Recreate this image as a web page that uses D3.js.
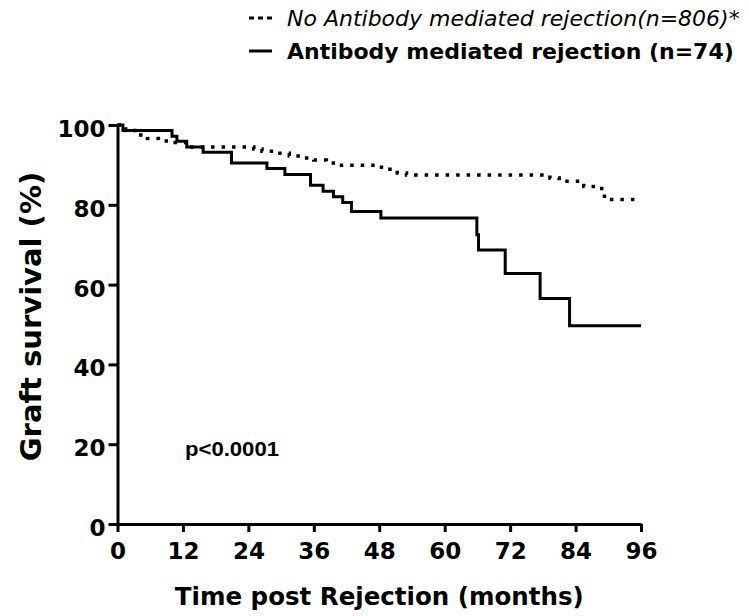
<!DOCTYPE html>
<html>
<head>
<meta charset="utf-8" />
<title>Graft survival after rejection</title>
<script src="https://d3js.org/d3.v7.min.js"></script>
<style>
    body { margin: 0; background: #fff; }
    svg { display: block; }
    .tick text { font-family: "DejaVu Sans", Verdana, sans-serif; font-weight: bold; }
</style>
</head>
<body>
<div id="holder"></div>
<script>
    //Data
    const amrMonths = [0, 1, 10.0, 10.9, 12.7, 15.7, 20.9, 27.4, 30.7, 35.4, 37.7, 39.6, 41.3, 42.9, 48.3, 65.9, 66.2, 71.1, 77.5, 82.9, 96];
    const amrSurvival = [100, 98.6, 97.2, 95.9, 94.5, 93.2, 90.5, 89.1, 87.6, 84.9, 83.4, 82.0, 80.6, 78.3, 76.7, 72.5, 68.7, 62.8, 56.5, 49.7, 49.7];

    const noAmrMonths = [0, 1.5, 3.5, 5.5, 7.5, 10, 13, 25, 26.5, 29, 31.5, 34, 36, 38.3, 40.3, 47.3, 49.5, 51.3, 53, 79.3, 81, 85.5, 88.8, 89.3, 96];
    const noAmrSurvival = [100, 98.6, 97.5, 96.6, 96.0, 95.6, 94.5, 94.0, 93.4, 92.9, 92.2, 91.7, 91.2, 90.5, 89.9, 89.4, 88.9, 88.0, 87.5, 86.7, 85.9, 84.6, 83.5, 81.3, 81.3];

    const xTicks = [0, 12, 24, 36, 48, 60, 72, 84, 96];
    const yTicks = [0, 20, 40, 60, 80, 100];

    const legendLabels = ["No Antibody mediated rejection(n=806)*", "Antibody mediated rejection (n=74)"];

    //Variables
    const w = 749;
    const h = 616;
    const padL = 117.5, padR = 641, padT = 125, padB = 524;

    const svg = d3.select("#holder")
        .append("svg")
        .attr("width", w)
        .attr("height", h);

    const xScale = d3.scaleLinear().domain([0, 96]).range([padL, padR]);
    const yScale = d3.scaleLinear().domain([0, 100]).range([padB, padT]);

    //Axes
    const xAxis = d3.axisBottom(xScale).tickValues(xTicks).tickSize(8).tickSizeOuter(0).tickPadding(11);
    const gx = svg.append("g")
        .attr("transform", "translate(0," + padB + ")")
        .call(xAxis);
    gx.selectAll("text").style("font-size", "23px").attr("fill", "#000");

    const yAxis = d3.axisLeft(yScale).tickValues(yTicks).tickSize(9).tickSizeOuter(0).tickPadding(3);
    const gy = svg.append("g")
        .attr("transform", "translate(" + padL + ",0)")
        .call(yAxis);
    gy.selectAll("text").style("font-size", "23px").attr("fill", "#000").attr("dy", "0.5em");

    svg.selectAll(".domain, .tick line")
        .attr("stroke", "#000")
        .attr("stroke-width", 3);

    //Curves
    const line = d3.line()
        .x(d => xScale(d[0]))
        .y(d => yScale(d[1]))
        .curve(d3.curveStepAfter);

    const noAmr = noAmrMonths.map((m, i) => [m, noAmrSurvival[i]]);
    const amr = amrMonths.map((m, i) => [m, amrSurvival[i]]);

    svg.append("path")
        .datum(noAmr)
        .attr("d", line)
        .attr("fill", "none")
        .attr("stroke", "#000")
        .attr("stroke-width", 3.5)
        .attr("stroke-dasharray", "3.5,7");

    svg.append("path")
        .datum(amr)
        .attr("d", line)
        .attr("fill", "none")
        .attr("stroke", "#000")
        .attr("stroke-width", 3);

    //Legend
    const legend = svg.append("g");
    legend.append("line")
        .attr("x1", 249).attr("x2", 272)
        .attr("y1", 18).attr("y2", 18)
        .attr("stroke", "#000").attr("stroke-width", 3)
        .attr("stroke-dasharray", "5,4");
    legend.append("text")
        .attr("x", 287).attr("y", 26)
        .style("font-family", "'DejaVu Sans', Verdana, sans-serif")
        .style("font-style", "italic")
        .style("font-size", "22px")
        .text(legendLabels[0]);

    legend.append("line")
        .attr("x1", 249).attr("x2", 272)
        .attr("y1", 51).attr("y2", 51)
        .attr("stroke", "#000").attr("stroke-width", 3);
    legend.append("text")
        .attr("x", 287).attr("y", 59)
        .style("font-family", "'DejaVu Sans', Verdana, sans-serif")
        .style("font-weight", "bold")
        .style("font-size", "22px")
        .text(legendLabels[1]);

    //p value
    svg.append("text")
        .attr("x", 185).attr("y", 456)
        .attr("textLength", 94)
        .attr("lengthAdjust", "spacingAndGlyphs")
        .style("font-family", "'Liberation Sans Narrow', 'Arial Narrow', sans-serif")
        .style("font-weight", "bold")
        .style("font-size", "21px")
        .text("p<0.0001");

    //Labels
    svg.append("text")
        .attr("text-anchor", "middle")
        .attr("x", (padL + padR) / 2)
        .attr("y", 605)
        .style("font-family", "'DejaVu Sans', Verdana, sans-serif")
        .style("font-weight", "bold")
        .style("font-size", "24.5px")
        .text("Time post Rejection (months)");

    svg.append("text")
        .attr("text-anchor", "middle")
        .attr("transform", "translate(41,316.5) rotate(-90)")
        .style("font-family", "'DejaVu Sans', Verdana, sans-serif")
        .style("font-weight", "bold")
        .style("font-size", "29px")
        .text("Graft survival (%)");
</script>
</body>
</html>
